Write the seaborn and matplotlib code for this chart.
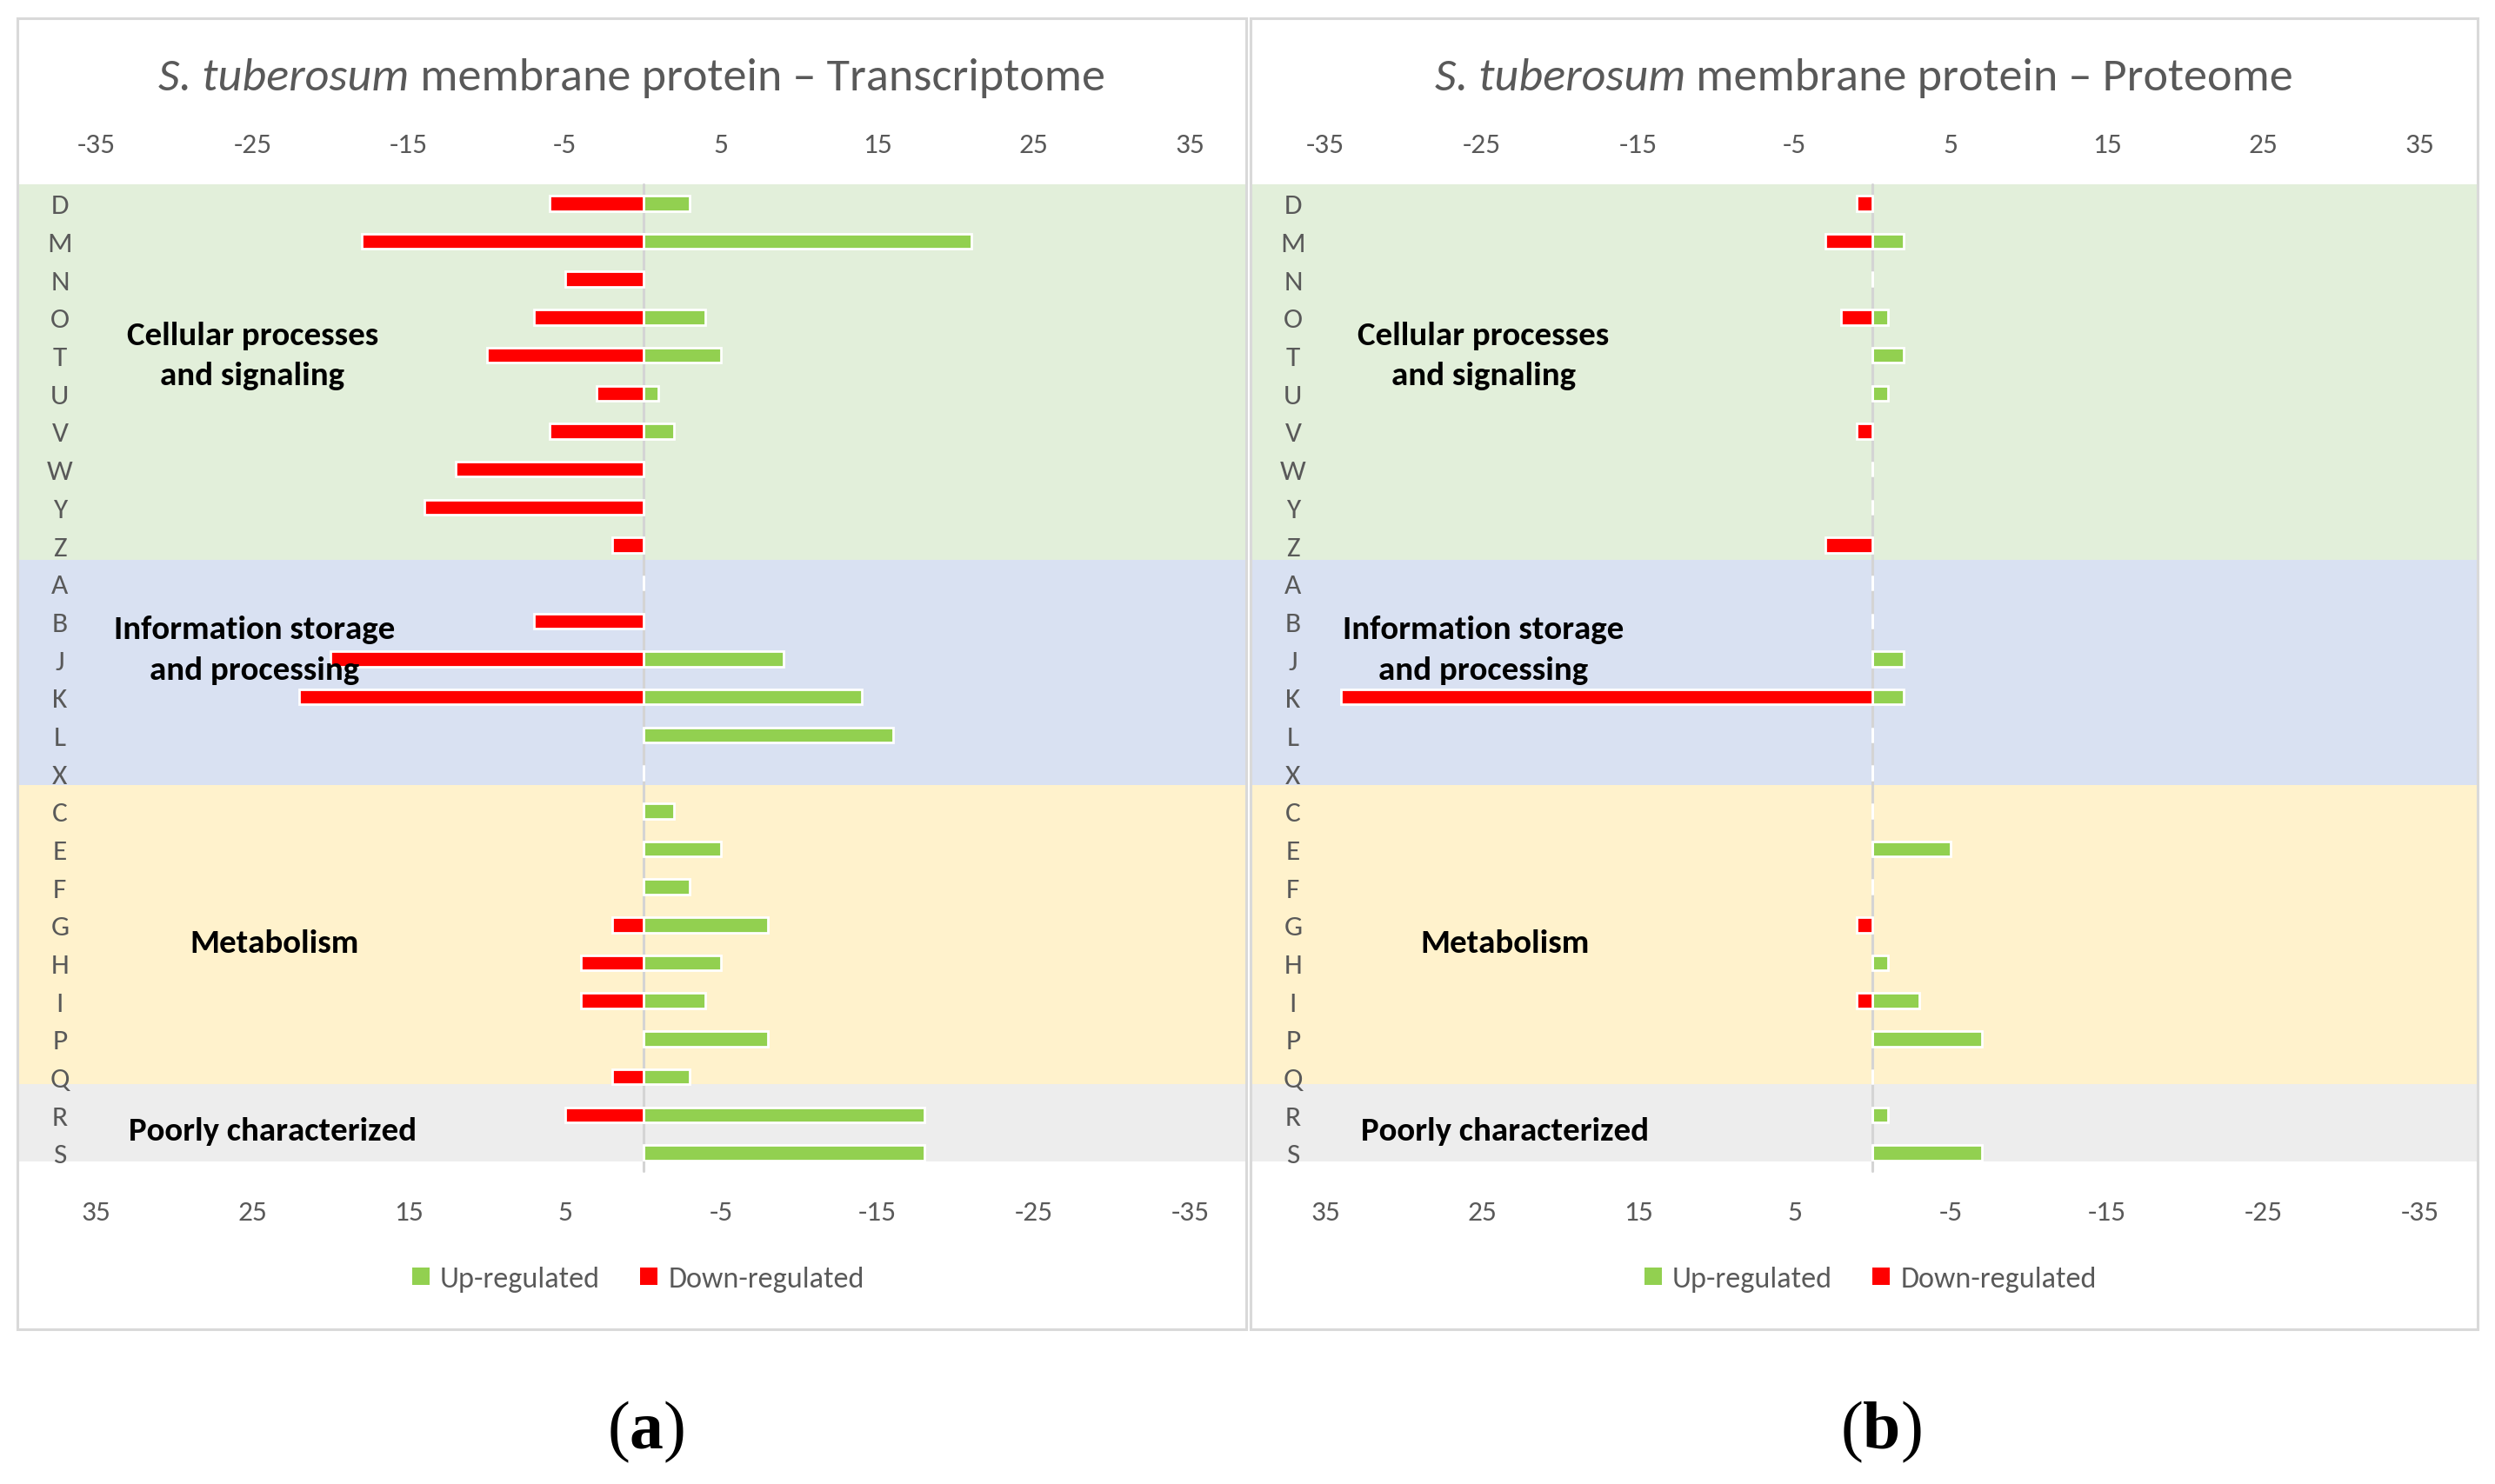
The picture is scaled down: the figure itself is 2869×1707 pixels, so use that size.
import pandas as pd
import seaborn as sns
import matplotlib.pyplot as plt
from matplotlib.patches import Rectangle
from matplotlib.lines import Line2D

sns.set_style('white')
plt.rcParams['font.family'] = ['Carlito', 'Lato', 'DejaVu Sans']
plt.rcParams['axes.unicode_minus'] = False
plt.rcParams['mathtext.fontset'] = 'custom'
plt.rcParams['mathtext.rm'] = 'Liberation Serif'
plt.rcParams['mathtext.bf'] = 'Liberation Serif:bold'

# COG categories, top to bottom
categories = ['D', 'M', 'N', 'O', 'T', 'U', 'V', 'W', 'Y', 'Z',
              'A', 'B', 'J', 'K', 'L', 'X',
              'C', 'E', 'F', 'G', 'H', 'I', 'P', 'Q',
              'R', 'S']

# (a) transcriptome
trans_up = [3, 21, 0, 4, 5, 1, 2, 0, 0, 0,
            0, 0, 9, 14, 16, 0,
            2, 5, 3, 8, 5, 4, 8, 3,
            18, 18]
trans_down = [-6, -18, -5, -7, -10, -3, -6, -12, -14, -2,
              0, -7, -20, -22, 0, 0,
              0, 0, 0, -2, -4, -4, 0, -2,
              -5, 0]

# (b) proteome
prot_up = [0, 2, 0, 1, 2, 1, 0, 0, 0, 0,
           0, 0, 2, 2, 0, 0,
           0, 5, 0, 0, 1, 3, 7, 0,
           1, 7]
prot_down = [-1, -3, 0, -2, 0, 0, -1, 0, 0, -3,
             0, 0, 0, -34, 0, 0,
             0, 0, 0, -1, 0, -1, 0, 0,
             0, 0]

groups = ['Cellular processes\nand signaling', 'Information storage\nand processing',
          'Metabolism', 'Poorly characterized']
group_edges = [-0.5, 9.39, 15.32, 23.19, 25.23]
group_colors = ['#E2EFDA', '#D9E1F2', '#FFF2CC', '#EDEDED']
group_label_y = [4.0, 11.75, 19.48, 24.42]
group_label_x_a = [-25.0, -24.9, -23.6, -23.7]
group_label_x_b = [-24.9, -24.9, -23.5, -23.5]

xticks = [-35, -25, -15, -5, 5, 15, 25, 35]

GREEN = '#92D050'
RED = '#FF0000'
GREY = '#595959'

W, H = 2869, 1708
fig = plt.figure(figsize=(W / 200, H / 200), dpi=200)


def draw_panel(ax, up, down, label_x, xlim):
    for lo, hi, c in zip(group_edges[:-1], group_edges[1:], group_colors):
        ax.axhspan(lo, hi, color=c, lw=0, zorder=0)
    df = pd.DataFrame({'cat': categories, 'up': up, 'down': down})
    sns.barplot(data=df, x='up', y='cat', color=GREEN, saturation=1, width=0.4,
                errorbar=None, ax=ax, zorder=3)
    sns.barplot(data=df, x='down', y='cat', color=RED, saturation=1, width=0.4,
                errorbar=None, ax=ax, zorder=3)
    ax.axvline(0, ymin=-0.0098, ymax=1, color='#D4D4D4', lw=1.1, clip_on=False, zorder=2)

    ax.set_xlim(xlim)
    ax.set_ylim(25.23, -0.5)
    ax.set_xlabel('')
    ax.set_ylabel('')
    for s in ax.spines.values():
        s.set_visible(False)

    # top axis
    ax.xaxis.tick_top()
    ax.set_xticks(xticks)
    ax.tick_params(axis='x', length=0, pad=16.6, labelsize=12, labelcolor=GREY)
    plt.setp(ax.get_xticklabels(), va='center')

    # bottom axis with reversed values
    sec = ax.secondary_xaxis('bottom', functions=(lambda v: -v, lambda v: -v))
    sec.set_xticks(xticks)
    sec.tick_params(length=0, pad=20.9, labelsize=12, labelcolor=GREY)
    plt.setp(sec.get_xticklabels(), va='center')
    for s in sec.spines.values():
        s.set_visible(False)

    ax.set_yticks(range(len(categories)))
    ax.set_yticklabels(categories)
    ax.tick_params(axis='y', length=0, pad=-17.6, labelsize=12, labelcolor=GREY)
    plt.setp(ax.get_yticklabels(), ha='center')

    for g, gx, gy in zip(groups, label_x, group_label_y):
        ax.text(gx, gy, g, ha='center', va='center', fontsize=14,
                fontweight='bold', color='black', linespacing=1.5, zorder=4)

    handles = [Line2D([], [], marker='s', ls='', color=GREEN, markersize=7.2, mew=0, label='Up-regulated'),
               Line2D([], [], marker='s', ls='', color=RED, markersize=7.2, mew=0, label='Down-regulated')]
    ax.legend(handles=handles, loc='center', bbox_to_anchor=(0.5046, -0.120), ncol=2,
              frameon=False, fontsize=12.3, labelcolor=GREY, handlelength=0.7,
              handletextpad=0.3, columnspacing=1.3)


frames = [(20, 1433), (1438, 2849)]
top_px, bot_px = 213, 1337
ax_a = fig.add_axes([20 / W, 1 - bot_px / H, (1433 - 20) / W, (bot_px - top_px) / H])
ax_b = fig.add_axes([1438 / W, 1 - bot_px / H, (2849 - 1438) / W, (bot_px - top_px) / H])
draw_panel(ax_a, trans_up, trans_down, group_label_x_a, (-40.05, 38.6))
draw_panel(ax_b, prot_up, prot_down, group_label_x_b, (-39.8, 38.7))

for x0, x1 in frames:
    fig.add_artist(Rectangle((x0 / W, 1 - 1530 / H), (x1 - x0) / W, (1530 - 22) / H,
                             transform=fig.transFigure, fill=False, ec='#D9D9D9', lw=1.1))

# titles: italic species name + regular rest
renderer = fig.canvas.get_renderer()
titles = [' membrane protein \u2013 Transcriptome', ' membrane protein \u2013 Proteome']
for (x0, x1), rest in zip(frames, titles):
    t1 = fig.text(0, 1 - 90 / H, 'S. tuberosum', style='italic', fontsize=19.5, color=GREY, va='center')
    t2 = fig.text(0, 1 - 90 / H, rest, fontsize=19.5, color=GREY, va='center')
    w1 = t1.get_window_extent(renderer).width
    w2 = t2.get_window_extent(renderer).width
    start = (x0 + x1) / 2 - (w1 + w2) / 2
    t1.set_x(start / W)
    t2.set_x((start + w1) / W)

for cx, lab in [(743, 'a'), (2163, 'b')]:
    fig.text(cx / W, 1 - 1647 / H, r'($\mathbf{%s}$)' % lab, ha='center', va='center',
             fontsize=28, family='Liberation Serif', color='black')

fig.savefig('out.png', dpi=200)
